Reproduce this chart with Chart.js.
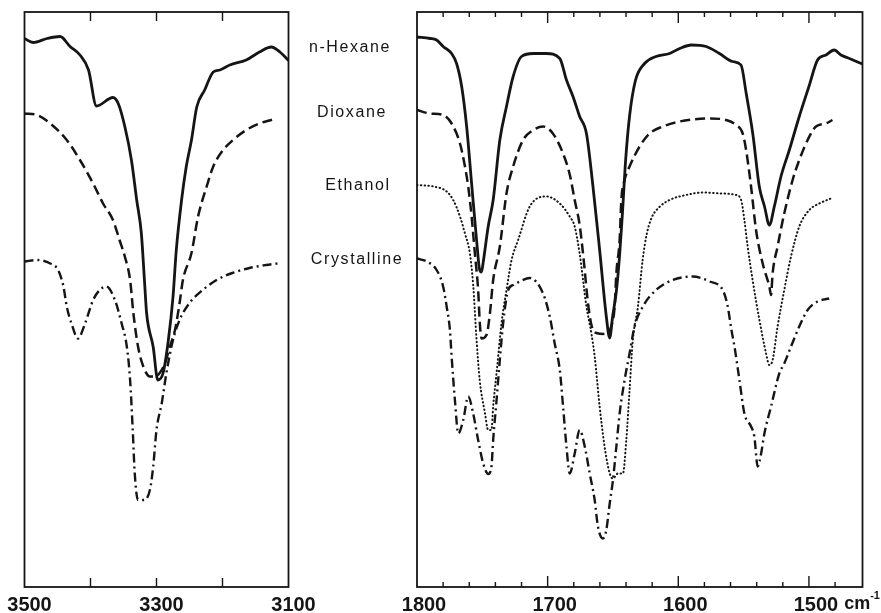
<!DOCTYPE html>
<html>
<head>
<meta charset="utf-8">
<script src="https://cdn.jsdelivr.net/npm/chart.js@4.4.1/dist/chart.umd.min.js"></script>
<style>
  html, body { margin: 0; padding: 0; background: #fff; }
  body { width: 881px; height: 613px; overflow: hidden; position: relative; }
  canvas { position: absolute; top: 0; }
  #leftChart { left: -10px; }
  #rightChart { left: 300px; }
  .solvent {
    position: absolute;
    font: 16px "Liberation Sans", sans-serif;
    letter-spacing: 1.6px;
    color: #151515;
    transform: translate(-50%, -50%);
    white-space: nowrap;
  }
</style>
</head>
<body>
<canvas id="leftChart" width="355" height="623"></canvas>
<canvas id="rightChart" width="581" height="623"></canvas>
<div class="solvent" style="left:350px; top:47px;">n-Hexane</div>
<div class="solvent" style="left:352px; top:112px;">Dioxane</div>
<div class="solvent" style="left:358px; top:185px;">Ethanol</div>
<div class="solvent" style="left:357px; top:259px;">Crystalline</div>
<script>
// ---- data: [wavenumber cm-1, transmittance (arbitrary, offset)] ----

// 3500 - 3100 cm-1 window
const hexaneLeft = [[3500,109.7],[3487,108.9],[3466,109.7],[3446,110.1],[3431,108.1],[3416,106.4],[3403,103.4],[3391,96.2],[3366,97.9],[3358,96.7],[3348,92.1],[3338,85.4],[3330,77.4],[3323,70.8],[3318,60.8],[3315,54.8],[3305,48],[3298,41.4],[3290,42.8],[3282,49.4],[3275,58],[3270,67.4],[3262,77.4],[3255,84],[3247,89.4],[3239,96],[3227,99.4],[3214,103],[3204,103.4],[3189,104.4],[3164,105.4],[3144,107],[3126,108],[3113,107],[3100,105.3]];
const dioxaneLeft = [[3500,94.7],[3481,94.4],[3461,92.7],[3436,89.4],[3416,85.4],[3396,80.7],[3381,76.7],[3366,73.4],[3356,69.4],[3348,66.1],[3340,61.4],[3335,54.7],[3328,48.1],[3320,44.1],[3310,42.1],[3303,42.1],[3287,44.8],[3280,48],[3272,51.4],[3265,56.8],[3260,61.4],[3247,66.8],[3237,74.1],[3224,80.1],[3214,84.1],[3199,87.4],[3184,89.4],[3164,91.4],[3144,92.7],[3124,93.5]];
const crystalLeft = [[3500,65.1],[3481,65.4],[3461,64.7],[3449,63.4],[3441,60.1],[3436,56.1],[3429,52.8],[3419,49.7],[3408,52.8],[3396,57.4],[3386,59.4],[3376,60.1],[3363,57.4],[3353,52.8],[3345,48.1],[3340,41.4],[3336,31.4],[3333,22.8],[3328,17.4],[3320,17.4],[3310,19.4],[3305,24.1],[3300,31.4],[3292,36.8],[3285,42.8],[3275,49.4],[3265,53.4],[3250,56.8],[3230,59.4],[3209,61.4],[3185,62.8],[3159,63.8],[3134,64.4],[3111,64.8]];

// 1800 - 1460 cm-1 window
const hexaneRight = [[1800,110],[1790,109.7],[1785,109.4],[1780,108.1],[1773.5,106.7],[1769.7,104.7],[1765.8,100.1],[1762,92.1],[1758.2,80.7],[1754.4,69.4],[1752,63.4],[1750.6,63],[1749.3,65],[1745.5,72.1],[1741.7,77.4],[1736.6,89.4],[1731.5,96.1],[1726.4,102.1],[1720,106.1],[1711,106.7],[1701,106.7],[1690.7,105.7],[1685.6,101.4],[1680.6,98.1],[1675.5,94.1],[1670.3,90.7],[1665.3,80.1],[1660.2,67.4],[1655.1,54.1],[1652.5,49.8],[1650.3,54],[1647.3,59.4],[1644.9,66.4],[1642.6,75.4],[1640.3,85.4],[1637.2,94.4],[1632.7,101.4],[1625.8,104.7],[1617,106.1],[1606.7,106.7],[1599,107.7],[1590,108.4],[1578.7,108.1],[1568.5,106.7],[1558.3,105.1],[1552,104.4],[1548,98.7],[1543,90.7],[1538,80.1],[1534,76.1],[1530.3,72.4],[1526.5,76.1],[1521.4,82.1],[1515,87.4],[1507.4,94.1],[1500,100.1],[1493.4,105.4],[1487,106.4],[1480.7,107.4],[1475.5,106.4],[1469,105.7],[1459,104.6]];
const dioxaneRight = [[1800,95.4],[1790,94.7],[1780,94.4],[1773.5,92.7],[1767.1,88.7],[1763.3,84.1],[1760.8,80.1],[1758.2,74.1],[1755.7,66.7],[1753.2,59.4],[1751.9,52.7],[1750.6,49.7],[1746.8,50.4],[1744.2,54.7],[1741.7,61.4],[1736.6,68.1],[1731.5,78.7],[1726.4,84.1],[1718.8,89.4],[1711,91.4],[1703.5,92.1],[1696,90.7],[1688.2,86.7],[1683,82.4],[1679.3,77.4],[1675.5,72.4],[1672.4,65.4],[1669.4,57.4],[1666.5,52.4],[1662.7,50.8],[1656.4,50.6],[1651,52.4],[1648.7,56.1],[1647.4,62.8],[1644.9,69.4],[1643.6,77.4],[1641.1,81.4],[1637.3,84.1],[1629.6,88.1],[1622,90.7],[1611.8,92.1],[1599,93.1],[1589,93.5],[1576,93.7],[1563.4,93.4],[1555.8,92.4],[1550.7,90.7],[1548.1,87.4],[1544.3,80.1],[1540.5,71.4],[1535.4,64.7],[1530.3,60.1],[1529,58.4],[1527.8,62.7],[1524,68.1],[1518.9,74.7],[1512.5,81.4],[1507.4,85.4],[1501,89.4],[1494.6,92.1],[1487,92.7],[1482,93.4]];
const ethanolRight = [[1800,80.4],[1787.5,80.1],[1777.3,79.1],[1772.3,77.4],[1767.1,74.1],[1763.3,70.7],[1759.5,66.7],[1757,60.4],[1754.4,49.4],[1752,41.4],[1748,34.8],[1745.5,31.4],[1743,31.4],[1741.7,36.1],[1739.1,42.8],[1735.3,52.8],[1731.5,59.4],[1727.6,65.4],[1722.6,69.4],[1713.7,76.1],[1701,78.1],[1690.7,76.7],[1683.1,74.1],[1679.3,72.1],[1675.5,66.7],[1670.3,56.1],[1666.5,50.7],[1664,46.1],[1660.2,36.1],[1656.4,28.1],[1652.5,22.7],[1650,21.7],[1646.2,22.7],[1642.4,22.7],[1639.8,29.4],[1637.3,39.4],[1634.8,49.4],[1630.9,56.1],[1627.3,65.4],[1624.3,70.4],[1620.5,73.8],[1614.4,76],[1606.7,77.4],[1594,78.4],[1581.3,78.9],[1566,78.7],[1555.8,78.4],[1551.9,77.4],[1549.4,73.4],[1546.9,68.1],[1543.1,61.4],[1537.9,53.4],[1532.8,46.7],[1530.3,44.4],[1527.8,45.4],[1524,52.1],[1518.9,59.4],[1513.7,66.1],[1507.4,72.1],[1499.7,75.4],[1492.1,76.7],[1483.2,77.7]];
const crystalRight = [[1800,65.7],[1792.6,65.1],[1785,63.4],[1780,60.1],[1777.3,56.1],[1774.8,51.4],[1773.5,46.1],[1771,37.4],[1768.4,30.7],[1764.6,33.4],[1760.8,38.1],[1757,34.7],[1753.2,29.4],[1749.3,24.7],[1745.5,22.6],[1743,24.1],[1741.7,29.4],[1739.1,37.4],[1736.6,45.4],[1734.1,52.7],[1730.2,59.4],[1726.4,60.4],[1721.3,61.1],[1713.7,61.8],[1703.5,58.7],[1698.4,54.1],[1694.6,48.7],[1690.7,43.4],[1688.2,36.1],[1685.6,28.1],[1683.1,22.7],[1679.3,26.7],[1675.5,31.4],[1671.6,28.1],[1667.8,22.7],[1664,17.4],[1661.5,12.1],[1657.7,9.7],[1655.1,11.4],[1652.5,16.7],[1650,21.4],[1647.4,28.1],[1644.9,34.7],[1641.1,41.4],[1637.3,46.7],[1633.5,52.1],[1627.1,56.1],[1617,59.4],[1604.2,61.4],[1589,62.1],[1576,61.1],[1566,59.4],[1562.4,56.4],[1559.3,51.4],[1557,48.1],[1553.2,41.4],[1549.4,34.7],[1544.3,32.1],[1541.8,30.1],[1539.2,24.1],[1536.6,26.7],[1534.1,30.7],[1529,36.1],[1522.7,42.7],[1518.9,44.7],[1513.7,48.1],[1507.4,52.1],[1501,55.4],[1493.4,57.1],[1484.5,57.7]];

// tick labels shown on each window
const leftTickLabels = [3500, 3300, 3100];
const rightTickLabels = [1800, 1700, 1600, 1500];

const INK = '#151515';
const TICK_FONT = { family: 'Liberation Sans', size: 20, weight: 'bold' };

// line styles for the four media
const styles = {
  hexane:  { borderWidth: 2.8, borderDash: [] },
  dioxane: { borderWidth: 2.5, borderDash: [10, 5] },
  ethanol: { borderWidth: 2, borderDash: [0.5, 3.3], borderCapStyle: 'round' },
  crystal: { borderWidth: 2.4, borderDash: [9, 4, 2, 4] }
};

function toPoints(arr) {
  return arr.map(p => ({ x: p[0], y: p[1] }));
}

function makeDataset(label, arr, style) {
  return Object.assign({
    label: label,
    data: toPoints(arr),
    borderColor: INK,
    pointRadius: 0,
    fill: false,
    cubicInterpolationMode: 'monotone',
    borderJoinStyle: 'round',
    borderCapStyle: 'butt'
  }, style);
}

// frame box plus inward tick marks (top and bottom), drawn from the x scale
const frameTicks = {
  id: 'frameTicks',
  afterDatasetsDraw(chart, args, opts) {
    const { ctx, chartArea: a } = chart;
    const xs = chart.scales.x;
    ctx.save();
    ctx.strokeStyle = INK;
    ctx.lineWidth = 1.8;
    ctx.strokeRect(a.left, a.top, a.right - a.left, a.bottom - a.top);
    ctx.lineWidth = 1.4;
    xs.ticks.forEach(t => {
      const px = xs.getPixelForValue(t.value);
      if (px <= a.left + 2 || px >= a.right - 2) return;
      const len = (t.value % opts.majorEvery === 0) ? opts.majorLen : opts.minorLen;
      ctx.beginPath();
      ctx.moveTo(px, a.top);
      ctx.lineTo(px, a.top + len);
      ctx.moveTo(px, a.bottom);
      ctx.lineTo(px, a.bottom - len);
      ctx.stroke();
    });
    if (opts.unit) {
      // cm-1 after the 1500 label
      ctx.fillStyle = INK;
      ctx.textBaseline = 'top';
      ctx.font = 'bold 20px "Liberation Sans"';
      const w = ctx.measureText('1500').width;
      const x0 = xs.getPixelForValue(1500) + opts.labelOffset + w / 2 + 6;
      const y0 = a.bottom + opts.pad;
      ctx.font = 'bold 18px "Liberation Sans"';
      ctx.fillText('cm', x0, y0 + 2);
      const cw = ctx.measureText('cm').width;
      ctx.font = 'bold 11px "Liberation Sans"';
      ctx.fillText('-1', x0 + cw, y0 - 3);
    }
    ctx.restore();
  }
};

function makeOptions(min, max, step, labels, offset, pad, frameOpts) {
  return {
    responsive: false,
    animation: false,
    layout: { padding: pad },
    plugins: {
      legend: { display: false },
      tooltip: { enabled: false },
      frameTicks: frameOpts
    },
    scales: {
      x: {
        type: 'linear',
        min: min,
        max: max,
        reverse: true,
        grid: { display: false, drawTicks: false },
        border: { display: false },
        ticks: {
          stepSize: step,
          includeBounds: false,
          autoSkip: false,
          maxRotation: 0,
          padding: 6,
          labelOffset: offset,
          color: INK,
          font: TICK_FONT,
          callback: v => labels.includes(v) ? String(v) : ''
        }
      },
      y: {
        type: 'linear',
        min: 0,
        max: 115,
        display: false
      }
    }
  };
}

new Chart(document.getElementById('leftChart'), {
  type: 'line',
  data: {
    datasets: [
      makeDataset('n-Hexane', hexaneLeft, styles.hexane),
      makeDataset('Dioxane', dioxaneLeft, styles.dioxane),
      makeDataset('Crystalline', crystalLeft, styles.crystal)
    ]
  },
  options: makeOptions(3100, 3500, 100, leftTickLabels, 5,
    { left: 34.5, right: 56.5, top: 12, bottom: 0 },
    { majorEvery: 100, majorLen: 9, minorLen: 9, unit: false }),
  plugins: [frameTicks]
});

new Chart(document.getElementById('rightChart'), {
  type: 'line',
  data: {
    datasets: [
      makeDataset('n-Hexane', hexaneRight, styles.hexane),
      makeDataset('Dioxane', dioxaneRight, styles.dioxane),
      makeDataset('Ethanol', ethanolRight, styles.ethanol),
      makeDataset('Crystalline', crystalRight, styles.crystal)
    ]
  },
  options: makeOptions(1459, 1800, 20, rightTickLabels, 7,
    { left: 117, right: 18.5, top: 12, bottom: 0 },
    { majorEvery: 100, majorLen: 11, minorLen: 5, unit: true, labelOffset: 7, pad: 6 }),
  plugins: [frameTicks]
});
</script>
</body>
</html>
